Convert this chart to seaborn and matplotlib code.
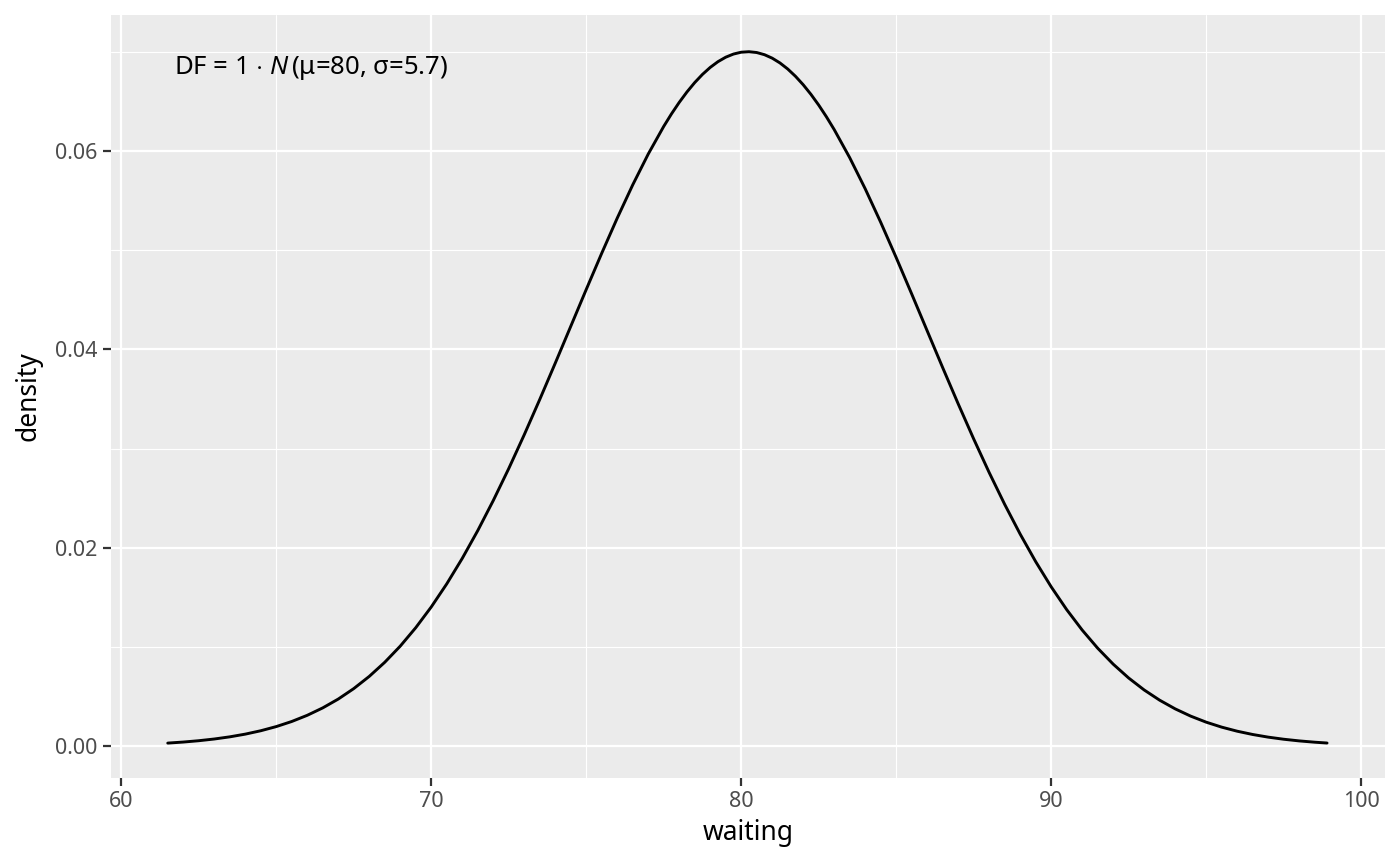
import matplotlib
matplotlib.use("Agg")
import matplotlib.pyplot as plt
import seaborn as sns
from matplotlib.ticker import MultipleLocator, FormatStrFormatter

# density curve (finer steps around the peak)
waiting = [61.5, 62.0, 62.5, 63.0, 63.5, 64.0, 64.5, 65.0, 65.5, 66.0, 66.5, 67.0,
           67.5, 68.0, 68.5, 69.0, 69.5, 70.0, 70.5, 71.0, 71.5, 72.0, 72.5, 73.0,
           73.5, 74.0, 74.5, 75.0, 75.5, 76.0, 76.5, 77.0, 77.5, 77.75, 78.0, 78.25,
           78.5, 78.75, 79.0, 79.25, 79.5, 79.75, 80.0, 80.25, 80.5, 80.75, 81.0,
           81.25, 81.5, 81.75, 82.0, 82.25, 82.5, 82.75, 83.0, 83.5, 84.0, 84.5,
           85.0, 85.5, 86.0, 86.5, 87.0, 87.5, 88.0, 88.5, 89.0, 89.5, 90.0, 90.5,
           91.0, 91.5, 92.0, 92.5, 93.0, 93.5, 94.0, 94.5, 95.0, 95.5, 96.0, 96.5,
           97.0, 97.5, 98.0, 98.5, 98.9]
density = [0.000319, 0.000424, 0.000559, 0.000731, 0.000949, 0.001222, 0.001563,
           0.001983, 0.002496, 0.003119, 0.003867, 0.004756, 0.005810, 0.007039,
           0.008462, 0.010089, 0.011947, 0.014035, 0.016363, 0.018929, 0.021729,
           0.024755, 0.027982, 0.031390, 0.034945, 0.038601, 0.042313, 0.046031,
           0.049685, 0.053223, 0.056576, 0.059680, 0.062469, 0.063729, 0.064889,
           0.065943, 0.066886, 0.067711, 0.068415, 0.068994, 0.069444, 0.069762,
           0.069948, 0.069999, 0.069916, 0.069698, 0.069348, 0.068867, 0.068258,
           0.067524, 0.066670, 0.065700, 0.064620, 0.063435, 0.062153, 0.059322,
           0.056186, 0.052809, 0.049253, 0.045586, 0.041868, 0.038158, 0.034512,
           0.030974, 0.027586, 0.024380, 0.021382, 0.018608, 0.016071, 0.013772,
           0.011713, 0.009885, 0.008278, 0.006879, 0.005673, 0.004643, 0.003770,
           0.003038, 0.002429, 0.001928, 0.001518, 0.001187, 0.000920, 0.000708,
           0.000541, 0.000410, 0.000326]

x_ticks = [60, 70, 80, 90, 100]
y_ticks = [0.00, 0.02, 0.04, 0.06]
label = r"DF = 1 $\cdot$ $\mathit{N}\,$(μ=80, σ=5.7)"

sns.set_theme(style="darkgrid", rc={
    "axes.facecolor": "#EBEBEB",
    "grid.color": "white",
    "axes.edgecolor": "#EBEBEB",
    "xtick.bottom": True,
    "ytick.left": True,
})
plt.rcParams["font.family"] = ["Noto Sans", "DejaVu Sans"]
plt.rcParams["mathtext.fontset"] = "custom"
plt.rcParams["mathtext.rm"] = "Noto Sans"
plt.rcParams["mathtext.it"] = "Noto Sans:italic"

fig = plt.figure(figsize=(14, 8.66), dpi=100)
ax = fig.add_axes([0.0793, 0.1016, 0.9100, 0.8811])

sns.lineplot(x=waiting, y=density, color="black", linewidth=2.1, ax=ax)

ax.set_xlim(59.67, 100.77)
ax.set_ylim(-0.0032, 0.0737)
ax.set_xticks(x_ticks)
ax.set_yticks(y_ticks)
ax.yaxis.set_major_formatter(FormatStrFormatter("%.2f"))
ax.xaxis.set_minor_locator(MultipleLocator(5))
ax.yaxis.set_minor_locator(MultipleLocator(0.01))
ax.grid(which="major", color="white", linewidth=1.6)
ax.grid(which="minor", color="white", linewidth=0.8)
ax.tick_params(which="major", length=5.5, width=1.6, color="#333333",
               labelsize=15.5, labelcolor="#4D4D4D", pad=4)
ax.tick_params(which="minor", length=0)
for s in ax.spines.values():
    s.set_visible(False)

ax.set_xlabel("waiting", fontsize=19, color="black", labelpad=5)
ax.set_ylabel("density", fontsize=19, color="black", labelpad=9)

ax.text(61.7, 0.0684, label, fontsize=18.5, color="black", ha="left", va="center")

fig.savefig("out.png", dpi=100)
